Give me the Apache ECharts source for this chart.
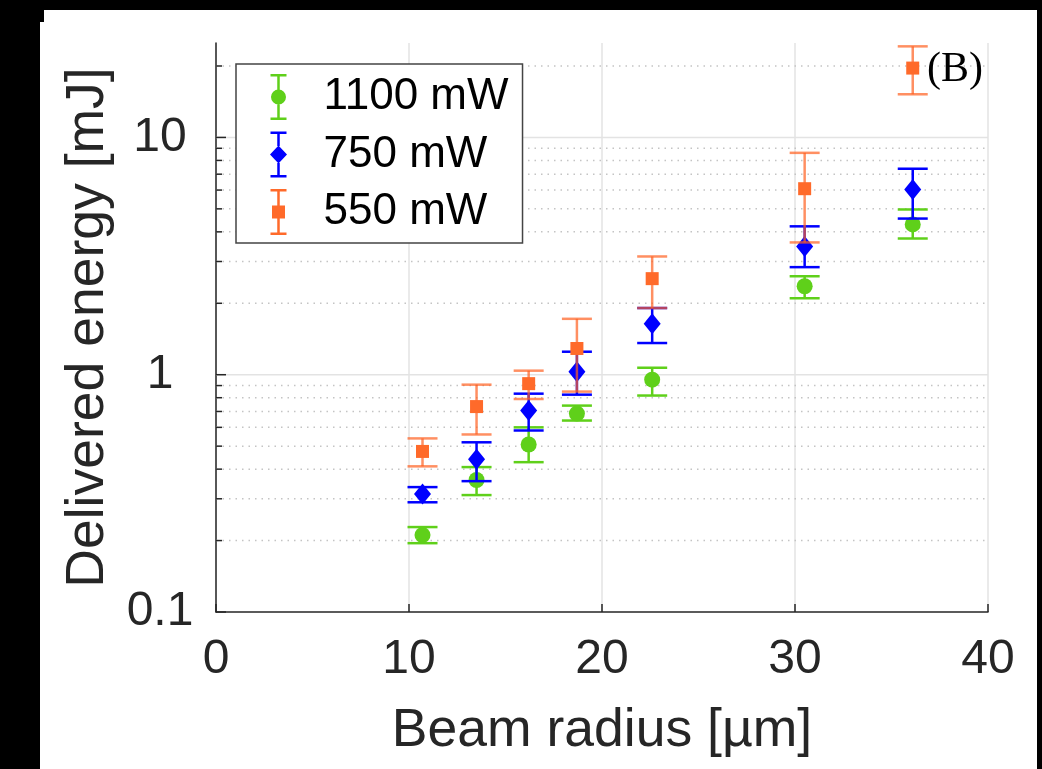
<!DOCTYPE html>
<html>
<head>
<meta charset="utf-8">
<script src="https://cdn.jsdelivr.net/npm/echarts@6/dist/echarts.min.js"></script>
<style>
  html, body { margin: 0; padding: 0; background: #000; width: 1042px; height: 769px; overflow: hidden; }
  #panel { position: absolute; left: 40px; top: 10px; width: 997px; height: 759px; background: #fff; }
  #notch { position: absolute; left: 40px; top: 10px; width: 4px; height: 12px; background: #000; }
  #chart { position: absolute; left: 0; top: 0; width: 1042px; height: 769px; }
</style>
</head>
<body>
<div id="panel"></div>
<div id="notch"></div>
<div id="chart"></div>
<script>
// ---- data ----
const radius = [10.7, 13.5, 16.2, 18.7, 22.6, 30.5, 36.1];

const e1100   = [0.211, 0.360, 0.508, 0.686, 0.953, 2.36, 4.30];
const e1100Lo = [0.195, 0.311, 0.428, 0.641, 0.817, 2.10, 3.75];
const e1100Hi = [0.228, 0.408, 0.600, 0.741, 1.07, 2.60, 4.97];

const e750   = [0.314, 0.440, 0.706, 1.03, 1.64, 3.47, 6.03];
const e750Lo = [0.290, 0.356, 0.582, 0.824, 1.36, 2.84, 4.55];
const e750Hi = [0.336, 0.519, 0.832, 1.25, 1.91, 4.22, 7.38];

const e550   = [0.475, 0.734, 0.917, 1.29, 2.54, 6.08, 19.6];
const e550Lo = [0.411, 0.560, 0.790, 0.849, 1.91, 3.61, 15.2];
const e550Hi = [0.539, 0.908, 1.04, 1.72, 3.15, 8.61, 24.2];

const seriesNames = ['1100 mW', '750 mW', '550 mW'];
const xTicks = [0, 10, 20, 30, 40];
const yMajorTicks = [0.1, 1, 10];
const yMinorTicks = [0.2, 0.3, 0.4, 0.5, 0.6, 0.7, 0.8, 0.9, 2, 3, 4, 5, 6, 7, 8, 9, 20];
const panelLabel = '(B)';

// ---- styling ----
const FONT = '"Liberation Sans", Arial, Helvetica, sans-serif';
const AXIS_COLOR = '#262626';
const cGreen = '#5fd01a', cBlue = '#0000ff', cOrange = '#ff6a2a';
const barGreen = 'rgba(95,208,26,1)', barBlue = 'rgba(0,0,255,1)', barOrange = 'rgba(255,96,32,0.7)';

function pts(vals) { return radius.map((r, i) => [r, vals[i]]); }
function bars(lo, hi) { return radius.map((r, i) => [r, lo[i], hi[i]]); }

function errRender(color) {
  return function (params, api) {
    const x = api.value(0);
    const pLo = api.coord([x, api.value(1)]);
    const pHi = api.coord([x, api.value(2)]);
    const w = 15;
    const style = { stroke: color, lineWidth: 2.5, fill: null };
    return {
      type: 'group',
      children: [
        { type: 'line', shape: { x1: pHi[0], y1: pHi[1], x2: pLo[0], y2: pLo[1] }, style: style },
        { type: 'line', shape: { x1: pHi[0] - w, y1: pHi[1], x2: pHi[0] + w, y2: pHi[1] }, style: style },
        { type: 'line', shape: { x1: pLo[0] - w, y1: pLo[1], x2: pLo[0] + w, y2: pLo[1] }, style: style }
      ]
    };
  };
}

// grid lines + y ticks (log minor ticks at 2..9 per decade)
const gridData = yMajorTicks.map(v => [v, 1]).concat(yMinorTicks.map(v => [v, 0]));
function gridRender(params, api) {
  const v = api.value(0), major = api.value(1) === 1;
  const a = api.coord([xTicks[0], v]);
  const b = api.coord([xTicks[xTicks.length - 1], v]);
  const children = [];
  if (!(major && v === yMajorTicks[0])) {
    children.push({
      type: 'line', silent: true,
      shape: { x1: a[0], y1: a[1], x2: b[0], y2: b[1] },
      style: major ? { stroke: '#e3e3e3', lineWidth: 1.5 }
                   : { stroke: '#c4c4c4', lineWidth: 1.5, lineDash: [1.5, 5] }
    });
  }
  children.push({
    type: 'line', silent: true,
    shape: { x1: a[0], y1: a[1], x2: a[0] + (major ? 10 : 6), y2: a[1] },
    style: { stroke: AXIS_COLOR, lineWidth: 1.5 }
  });
  return { type: 'group', children: children };
}

const iconCircle = 'path://M0,0H16V2.5H0Z M6.75,0H9.25V16H6.75Z M6.75,30H9.25V46H6.75Z M0,43.5H16V46H0Z M8,15.5A7.5,7.5,0,1,1,8,30.5A7.5,7.5,0,1,1,8,15.5Z';
const iconDiamond = 'path://M0,0H16V2.5H0Z M6.75,0H9.25V14.5H6.75Z M6.75,31.5H9.25V46H6.75Z M0,43.5H16V46H0Z M8,14L16.5,23L8,32L-0.5,23Z';
const iconSquare = 'path://M0,0H16V2.5H0Z M6.75,0H9.25V17H6.75Z M6.75,29H9.25V46H6.75Z M0,43.5H16V46H0Z M1.5,16.5H14.5V29.5H1.5Z';

const chart = echarts.init(document.getElementById('chart'), null, { renderer: 'canvas' });
chart.setOption({
  backgroundColor: 'transparent',
  animation: false,
  textStyle: { fontFamily: FONT },
  grid: { left: 216, right: 54, top: 43, bottom: 157, containLabel: false },
  xAxis: {
    type: 'value', min: 0, max: 40, interval: 10,
    name: 'Beam radius [µm]', nameLocation: 'middle', nameGap: 92,
    nameTextStyle: { fontSize: 53.5, color: AXIS_COLOR, fontFamily: FONT },
    axisLine: { show: true, lineStyle: { color: AXIS_COLOR, width: 1.5 } },
    axisTick: { show: true, inside: true, length: 8, lineStyle: { color: AXIS_COLOR, width: 1.5 } },
    axisLabel: { fontSize: 48, color: AXIS_COLOR, margin: 24, fontFamily: FONT },
    splitLine: { show: true, lineStyle: { color: '#e3e3e3', width: 1.5 } }
  },
  yAxis: {
    type: 'log', logBase: 10, min: 0.1, max: 25,
    name: 'Delivered energy [mJ]', nameLocation: 'middle', nameGap: 83, nameRotate: 90,
    nameTextStyle: { fontSize: 53.5, color: AXIS_COLOR, fontFamily: FONT },
    axisLine: { show: true, lineStyle: { color: AXIS_COLOR, width: 1.5 } },
    axisTick: { show: false },
    splitLine: { show: false },
    minorTick: { show: false },
    axisLabel: {
      fontSize: 48, color: AXIS_COLOR, margin: 56, align: 'center', fontFamily: FONT,
      showMaxLabel: false,
      formatter: function (v) {
        const l = Math.log10(v);
        if (Math.abs(l - Math.round(l)) < 1e-6) return String(+v.toPrecision(3));
        return '';
      }
    }
  },
  legend: {
    show: true, orient: 'vertical', left: 236, top: 64,
    padding: [10, 14, 8, 34], itemGap: 11.5,
    itemWidth: 80, itemHeight: 46, symbolKeepAspect: true,
    backgroundColor: '#fff', borderColor: '#444', borderWidth: 1.5, borderRadius: 0,
    selectedMode: false,
    textStyle: { fontSize: 44, color: '#000', fontFamily: FONT },
    data: [
      { name: seriesNames[0], icon: iconCircle },
      { name: seriesNames[1], icon: iconDiamond },
      { name: seriesNames[2], icon: iconSquare }
    ]
  },
  graphic: [{
    type: 'text', left: 927, top: 49, z: 10,
    style: { text: panelLabel, font: '42px "Liberation Serif", "Times New Roman", serif', fill: '#000' }
  }],
  series: [
    { name: 'grid', type: 'custom', renderItem: gridRender, data: gridData, z: 1, silent: true,
      encode: { x: -1, y: 0 }, clip: false },

    { name: seriesNames[0], type: 'scatter', data: pts(e1100), symbol: 'circle', symbolSize: 16,
      itemStyle: { color: cGreen, opacity: 1 }, z: 3 },
    { name: seriesNames[0], type: 'custom', renderItem: errRender(barGreen), data: bars(e1100Lo, e1100Hi),
      encode: { x: 0, y: [1, 2] }, itemStyle: { color: cGreen }, z: 2 },

    { name: seriesNames[1], type: 'scatter', data: pts(e750), symbol: 'diamond', symbolSize: [17, 21],
      itemStyle: { color: cBlue, opacity: 1 }, z: 5 },
    { name: seriesNames[1], type: 'custom', renderItem: errRender(barBlue), data: bars(e750Lo, e750Hi),
      encode: { x: 0, y: [1, 2] }, itemStyle: { color: cBlue }, z: 4 },

    { name: seriesNames[2], type: 'scatter', data: pts(e550), symbol: 'rect', symbolSize: 13,
      itemStyle: { color: cOrange, opacity: 1 }, z: 7 },
    { name: seriesNames[2], type: 'custom', renderItem: errRender(barOrange), data: bars(e550Lo, e550Hi),
      encode: { x: 0, y: [1, 2] }, itemStyle: { color: cOrange }, z: 6 }
  ]
});
</script>
</body>
</html>
